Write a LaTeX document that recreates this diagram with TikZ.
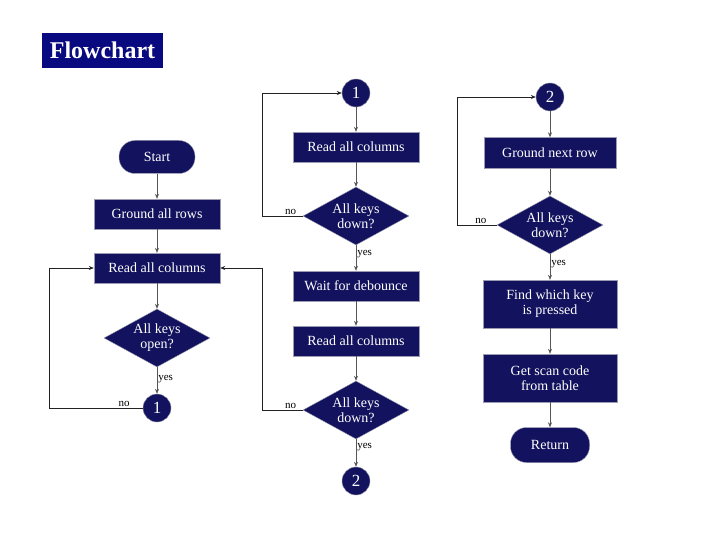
\documentclass[tikz,border=0pt]{standalone}
\usepackage{fontspec}
\setmainfont{Liberation Serif}
\usepackage{tikz}
\usetikzlibrary{shapes,arrows.meta,positioning,calc}
\usepackage{xcolor}
\definecolor{fcTitle}{HTML}{0A0A80}
\definecolor{fcNavy}{HTML}{12125E}
\definecolor{fcEdge}{HTML}{9A9AB0}
\definecolor{fcLine}{HTML}{555555}
\definecolor{fcLoop}{HTML}{222222}
\tikzset{
  box/.style={draw=fcEdge, fill=fcNavy, text=white, minimum width=126pt, minimum height=30pt, inner sep=2pt, align=center, font=\fontsize{14}{15}\selectfont},
  boxT/.style={box, minimum width=134pt, minimum height=48pt},
  pill/.style={box, rounded corners=16pt, minimum width=76pt, minimum height=33pt},
  dec/.style={diamond, draw=fcEdge, fill=fcNavy, text=white, minimum width=106pt, minimum height=58pt, shape aspect=2, inner sep=0pt, align=center, font=\fontsize{14}{15}\selectfont},
  conn/.style={circle, draw=fcEdge, fill=fcNavy, text=white, minimum size=28pt, inner sep=0pt, font=\fontsize{17}{18}\selectfont},
  arr/.style={-{Stealth[length=5pt,width=4pt]}, draw=fcLine, line width=0.6pt},
  loop/.style={arr, draw=fcLoop},
  lbl/.style={font=\fontsize{11}{12}\selectfont, inner sep=1pt},
}
\begin{document}
\begin{tikzpicture}[x=1pt,y=-1pt]
  \useasboundingbox (0,0) rectangle (720,540);
  % title
  \node[fill=fcTitle, text=white, minimum width=121pt, minimum height=35pt, font=\fontsize{24}{25}\selectfont\bfseries] (title) at (102.5,50.5) {Flowchart};
  % first column
  \node[pill] (start) at (157,157) {Start};
  \node[box] (gnd1) at (157,214) {Ground all rows};
  \node[box] (read1) at (157,268) {Read all columns};
  \node[dec] (open1) at (157,338) {All keys\\open?};
  \node[conn] (cOneA) at (157,408) {1};
  % second column
  \node[conn] (cOneB) at (356,93) {1};
  \node[box] (read2) at (356,147) {Read all columns};
  \node[dec] (down1) at (356,216) {All keys\\down?};
  \node[box] (wait) at (356,286) {Wait for debounce};
  \node[box] (read3) at (356,341) {Read all columns};
  \node[dec] (down2) at (356,410) {All keys\\down?};
  \node[conn] (cTwoA) at (356,481) {2};
  % third column
  \node[conn] (cTwoB) at (550,97) {2};
  \node[box, minimum width=132pt, minimum height=31pt] (gnd2) at (550,153) {Ground next row};
  \node[dec] (down3) at (550,225) {All keys\\down?};
  \node[boxT] (find) at (550,304) {Find which key\\is pressed};
  \node[boxT] (scan) at (550,378) {Get scan code\\from table};
  \node[pill, minimum width=79pt, minimum height=35pt] (ret) at (550,445) {Return};
  % straight flow
  \foreach \a/\b in {start/gnd1, gnd1/read1, read1/open1, cOneB/read2, read2/down1, wait/read3, read3/down2, cTwoB/gnd2, gnd2/down3, find/scan, scan/ret} {
    \draw[arr] (\a) -- (\b);
  }
  \draw[arr] (open1) -- node[lbl, right, pos=0.45] (yes1) {yes} (cOneA);
  \draw[arr] (down1) -- node[lbl, right, pos=0.35] (yes2) {yes} (wait);
  \draw[arr] (down2) -- node[lbl, right, pos=0.3] (yes3) {yes} (cTwoA);
  \draw[arr] (down3) -- node[lbl, right, pos=0.4] (yes4) {yes} (find);
  % loops back
  \coordinate (turnA) at (49,408);
  \coordinate (turnB) at (262,216);
  \coordinate (turnC) at (262,410);
  \coordinate (turnD) at (457,225);
  \draw[loop] (cOneA.west) -- node[lbl, above, pos=0.2] (no1) {no} (turnA) |- (read1.west);
  \draw[loop] (down1.west) -- node[lbl, above, pos=0.3] (no2) {no} (turnB) |- (cOneB.west);
  \draw[loop] (down2.west) -- node[lbl, above, pos=0.3] (no3) {no} (turnC) |- (read1.east);
  \draw[loop] (down3.west) -- node[lbl, above, pos=0.4] (no4) {no} (turnD) |- (cTwoB.west);
\end{tikzpicture}
\end{document}
